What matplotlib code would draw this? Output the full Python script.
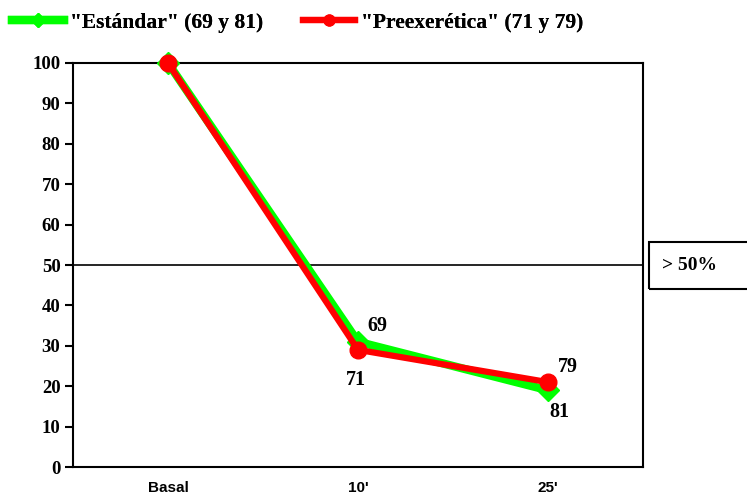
import matplotlib
matplotlib.use("Agg")
import matplotlib.pyplot as plt
from matplotlib.patches import Rectangle

categories = ["Basal", "10'", "25'"]
estandar = [100, 31, 19]
preexeretica = [100, 29, 21]
estandar_labels = ["", "69", "81"]
preexeretica_labels = ["", "71", "79"]
yticks = list(range(0, 101, 10))

serif = ["Liberation Serif", "DejaVu Serif"]
sans = ["Liberation Sans", "DejaVu Sans"]

fig = plt.figure(figsize=(7.47, 4.94), dpi=100)
ax = fig.add_axes([73 / 747, 27 / 494, 570 / 747, 404 / 494])

x = list(range(len(categories)))
h_est, = ax.plot(x, estandar, color="#00ff00", lw=6, marker="D", ms=11,
                 label='"Estándar" (69 y 81)', zorder=3, clip_on=False)
h_pre, = ax.plot(x, preexeretica, color="#ff0000", lw=4.5, marker="o", ms=12,
                 label='"Preexerética" (71 y 79)', zorder=4, clip_on=False)

ax.axhline(50, color="black", lw=1.2, zorder=1)

ax.set_xlim(-0.5, 2.5)
ax.set_ylim(0, 100)
ax.set_yticks(yticks)
ax.set_yticklabels([str(v) for v in yticks], fontfamily=serif,
                   fontweight="bold", fontsize=13.5)
ax.set_xticks(x)
ax.set_xticklabels(categories, fontfamily=sans, fontweight="bold", fontsize=11)
ax.tick_params(axis="x", length=0, pad=10)
ax.tick_params(axis="y", length=6, width=1.5, pad=3)
for s in ax.spines.values():
    s.set_linewidth(1.5)

# value labels next to the points
offsets = {("e", 1): (19, 16), ("e", 2): (11, -22),
           ("p", 1): (-2, -30), ("p", 2): (20, 15)}
for i in range(len(categories)):
    if estandar_labels[i]:
        ax.annotate(estandar_labels[i], (x[i], estandar[i]),
                    xytext=offsets[("e", i)], textcoords="offset pixels",
                    ha="center", va="center", fontfamily=serif,
                    fontweight="bold", fontsize=14.5, zorder=5)
    if preexeretica_labels[i]:
        ax.annotate(preexeretica_labels[i], (x[i], preexeretica[i]),
                    xytext=offsets[("p", i)], textcoords="offset pixels",
                    ha="center", va="center", fontfamily=serif,
                    fontweight="bold", fontsize=14.5, zorder=5)

# threshold box on the right
box = Rectangle((649 / 747, (494 - 289) / 494), 100 / 747, 47 / 494,
                transform=fig.transFigure, fill=False, lw=1.5,
                edgecolor="black", clip_on=False)
fig.patches.append(box)
fig.text(690 / 747, (494 - 265) / 494, "> 50%", ha="center", va="center",
         fontfamily=serif, fontweight="bold", fontsize=14)

# one legend entry per series, laid out in a row above the plot
leg_prop = {"family": serif, "weight": "bold", "size": 15.5}
for handle, x0 in ((h_est, 12), (h_pre, 303)):
    leg = fig.legend(handles=[handle], loc="center left",
                     bbox_to_anchor=(x0 / 747, (494 - 23) / 494),
                     frameon=False, prop=leg_prop, handlelength=2.4,
                     handletextpad=0.3, borderaxespad=0, borderpad=0,
                     markerscale=0.65)
    fig.add_artist(leg)

fig.savefig("out.png", dpi=100)
